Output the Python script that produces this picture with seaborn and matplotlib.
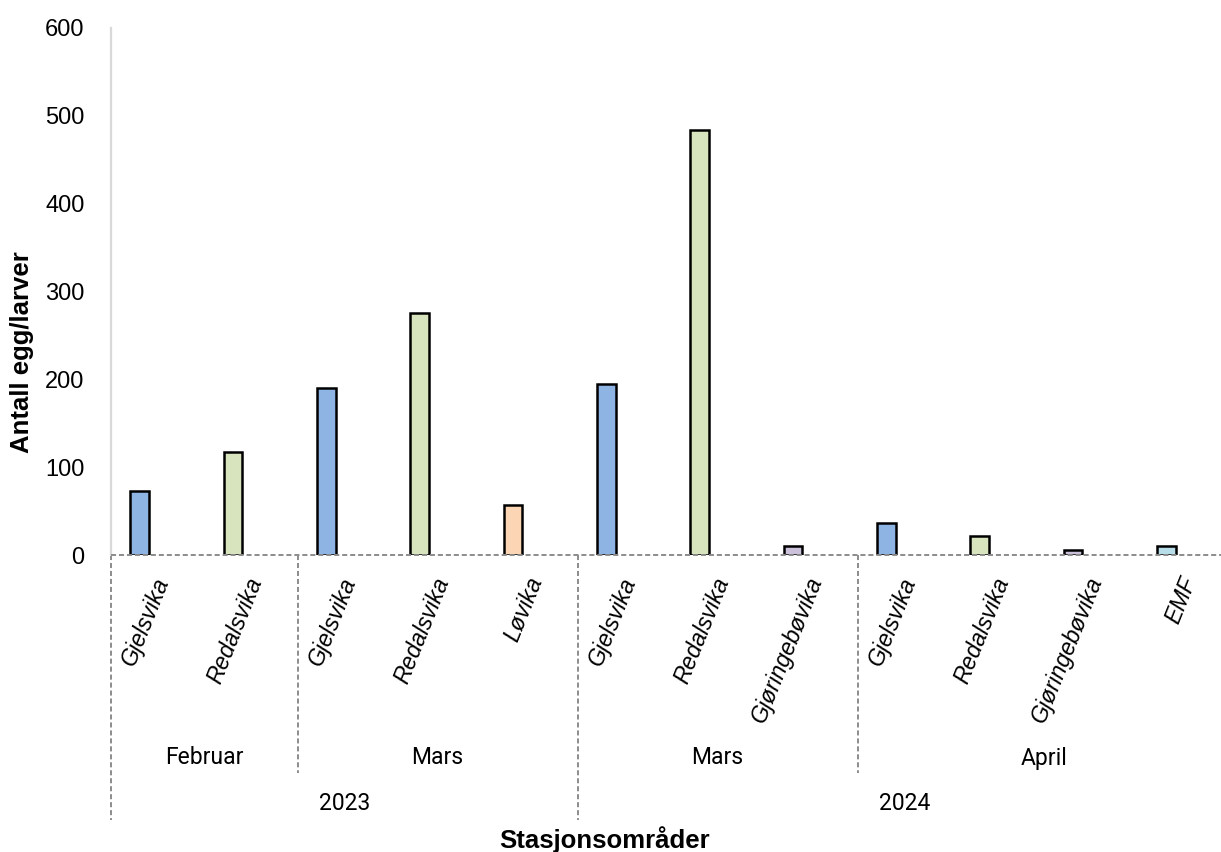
import numpy as np
import pandas as pd
import matplotlib
matplotlib.use("Agg")
import matplotlib.pyplot as plt
import seaborn as sns

# Egg/larvae counts per station area, grouped by month and year
stations = ["Gjelsvika", "Redalsvika",
            "Gjelsvika", "Redalsvika", "Løvika",
            "Gjelsvika", "Redalsvika", "Gjøringebøvika",
            "Gjelsvika", "Redalsvika", "Gjøringebøvika", "EMF"]
counts = [73, 117, 190, 275, 57, 195, 484, 10, 37, 22, 6, 10]
months = ["Februar", "Februar", "Mars", "Mars", "Mars",
          "Mars", "Mars", "Mars", "April", "April", "April", "April"]
years = ["2023"] * 5 + ["2024"] * 7

station_colors = {
    "Gjelsvika": "#8EB4E3",
    "Redalsvika": "#D7E4BD",
    "Løvika": "#FCD5B5",
    "Gjøringebøvika": "#CCC1DA",
    "EMF": "#B7DEE8",
}
y_ticks = [0, 100, 200, 300, 400, 500, 600]

df = pd.DataFrame({
    "pos": [str(i) for i in range(len(stations))],
    "station": stations,
    "count": counts,
})

sns.set_theme(style="white")
plt.rcParams["font.family"] = ["Roboto", "DejaVu Sans"]

W, H, DPI = 1221, 852, 100
fig = plt.figure(figsize=(W / DPI, H / DPI), dpi=DPI)
ax_left, ax_right, ax_top, ax_bottom = 111, 1231, 28, 555
ax = fig.add_axes([ax_left / W, 1 - ax_bottom / H,
                   (ax_right - ax_left) / W, (ax_bottom - ax_top) / H])

sns.barplot(data=df, x="pos", y="count", hue="station", palette=station_colors,
            dodge=False, width=0.2, saturation=1, edgecolor="black",
            linewidth=1.8, legend=False, ax=ax, zorder=2)

n = len(stations)
shift = 0.193  # bars sit left of the slot centre
ax.set_xlim(-0.5 + shift, n - 0.5 + shift)
ax.set_ylim(0, 600)
ax.set_yticks(y_ticks)
ax.set_yticklabels([str(t) for t in y_ticks], family="Liberation Sans",
                   fontsize=17, color="black")
ax.tick_params(axis="y", length=0, pad=19)
ax.set_xticks([])
ax.set_xlabel("")
ax.set_ylabel("")
for side in ["top", "right", "bottom"]:
    ax.spines[side].set_visible(False)
ax.spines["left"].set_color("#d9d9d9")
ax.spines["left"].set_linewidth(1.6)

dash_color = "#8c8c8c"
dash = (0, (2.6, 1.5))
xform = ax.get_xaxis_transform()
ax.plot([0, 1], [0, 0], transform=ax.transAxes, color=dash_color, lw=1.4,
        ls=dash, clip_on=False, zorder=3)

px = 1.0 / (ax_bottom - ax_top)  # one pixel in axes-fraction units
month_sep_end = -(773 - ax_bottom) * px
year_sep_end = -(820 - ax_bottom) * px

# station labels, rotated and right-aligned just under the axis
for i, name in enumerate(stations):
    ax.text(i + shift + 0.06, -23 * px, name, transform=xform, rotation=68,
            rotation_mode="anchor", ha="right", va="center", fontsize=16.5,
            style="italic", family="Liberation Sans", color="black")

month_groups = []
start = 0
for i in range(1, n + 1):
    if i == n or months[i] != months[start] or years[i] != years[start]:
        month_groups.append((start, i - 1, months[start]))
        start = i
year_groups = []
start = 0
for i in range(1, n + 1):
    if i == n or years[i] != years[start]:
        year_groups.append((start, i - 1, years[start]))
        start = i

year_bounds = {g[0] for g in year_groups}
for a, b, name in month_groups:
    ax.text((a + b) / 2 + shift, -(758 - ax_bottom) * px, name, transform=xform,
            ha="center", va="center", fontsize=16.5, color="black")
    if a not in year_bounds:
        ax.plot([a - 0.5 + shift] * 2, [0, month_sep_end], transform=xform,
                color=dash_color, lw=1.4, ls=dash, clip_on=False)
for a, b, name in year_groups:
    ax.text((a + b) / 2 + shift, -(804 - ax_bottom) * px, name, transform=xform,
            ha="center", va="center", fontsize=16.5, color="black")
    ax.plot([a - 0.5 + shift] * 2, [0, year_sep_end], transform=xform,
            color=dash_color, lw=1.4, ls=dash, clip_on=False)

fig.text(605 / W, 1 - 840 / H, "Stasjonsområder", ha="center", va="center",
         fontsize=18.5, fontweight="bold", family="Liberation Sans",
         color="black")
fig.text(22 / W, 1 - 352 / H, "Antall egg/larver", ha="center", va="center",
         rotation=90, fontsize=18.5, fontweight="bold", family="Liberation Sans",
         color="black")

fig.savefig("out.png", dpi=DPI, facecolor="white")
